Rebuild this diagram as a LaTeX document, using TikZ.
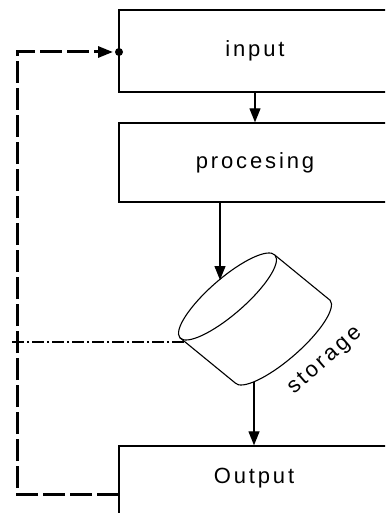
\documentclass[tikz,border=0pt]{standalone}
\usepackage{fontspec}
\setmainfont{Liberation Sans}[LetterSpace=13]
\usetikzlibrary{arrows.meta}
\begin{document}
\begin{tikzpicture}[x=1pt,y=-1pt,
  box/.style={draw, line width=1.4pt, minimum width=272pt, inner sep=0pt},
  lbl/.style={font=\fontsize{22}{25}\selectfont, inner sep=0pt},
  flow/.style={line width=1.3pt, -{Triangle[length=14pt,width=11pt]}},
  fb/.style={line width=3pt, dash pattern=on 22pt off 5pt},
  fbdot/.style={line width=2.6pt, dash pattern=on 12pt off 3pt on 2pt off 3pt},
  cyl/.style={line width=1.1pt}]
\clip (0,0) rectangle (385,513);
\fill[white] (0,0) rectangle (385,513);
% boxes
\node[box, lbl, minimum height=82pt] (input) at (255,51) {input};
\node[box, lbl, minimum height=79pt] (proc) at (255,162.5) {procesing};
\node[box, minimum height=80pt] (output) at (255,486) {};
\node[lbl] (outtxt) at (254,478) {Output};
% storage cylinder
\begin{scope}[shift={(227.5,296.5)}, rotate=41]
  \draw[cyl] (0,0) ellipse [x radius=63pt, y radius=18pt];
\end{scope}
\begin{scope}[shift={(282.5,341.5)}, rotate=41]
  \draw[cyl] (63pt,0pt) arc[start angle=0, end angle=-180, x radius=63pt, y radius=18pt];
\end{scope}
\coordinate (cA) at (180,337.8);
\coordinate (cA2) at (235,382.8);
\coordinate (cB) at (275,255.2);
\coordinate (cB2) at (330,300.2);
\draw[cyl] (cA) -- (cA2);
\draw[cyl] (cB) -- (cB2);
\node[lbl, rotate=41] (stlbl) at (325,361) {storage};
% connection points
\coordinate (stin) at (220,280);
\coordinate (stout) at (254,382);
\coordinate (stw) at (184,342);
\coordinate (dleft) at (12,342);
\coordinate (fbA) at (119,494);
\coordinate (fbB) at (17,494);
\coordinate (fbC) at (17,52);
\coordinate (inW) at (119,52);
% flow arrows
\draw[flow] (input.south) -- (proc.north);
\draw[flow] (stin |- proc.south) -- (stin);
\draw[flow] (stout) -- (stout |- output.north);
% feedback
\draw[fb, -{Triangle[length=15pt,width=11pt]}, shorten >=6pt] (fbA) -- (fbB) -- (fbC) -- (inW);
\fill (inW) circle (4pt);
\draw[fbdot] (stw) -- (dleft);
\end{tikzpicture}
\end{document}
